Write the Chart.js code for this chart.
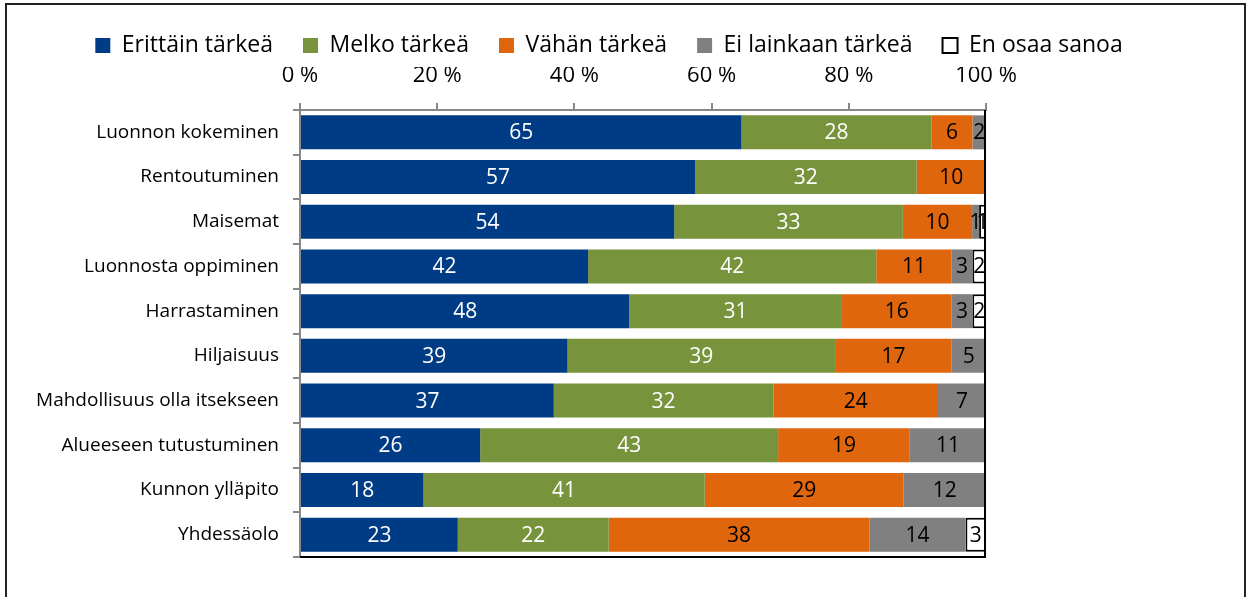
<!DOCTYPE html>
<html>
<head>
<meta charset="utf-8">
<script src="https://cdn.jsdelivr.net/npm/chart.js@4/dist/chart.umd.min.js"></script>
<style>
    html, body { margin: 0; padding: 0; background: #fff; overflow: hidden; }
    #frame { position: absolute; left: 5px; top: 3px; width: 1237px; height: 620px; border: 2px solid #222; }
    #chart { position: absolute; left: 0; top: 0; }
</style>
</head>
<body>
<div id="frame"></div>
<canvas id="chart" width="1247" height="597"></canvas>
<script>
const categories = [
    'Luonnon kokeminen', 'Rentoutuminen', 'Maisemat', 'Luonnosta oppiminen', 'Harrastaminen',
    'Hiljaisuus', 'Mahdollisuus olla itsekseen', 'Alueeseen tutustuminen', 'Kunnon ylläpito', 'Yhdessäolo'
];
const seriesNames = ['Erittäin tärkeä', 'Melko tärkeä', 'Vähän tärkeä', 'Ei lainkaan tärkeä', 'En osaa sanoa'];
const erittain = [65, 57, 54, 42, 48, 39, 37, 26, 18, 23];
const melko    = [28, 32, 33, 42, 31, 39, 32, 43, 41, 22];
const vahan    = [6, 10, 10, 11, 16, 17, 24, 19, 29, 38];
const eiLainkaan = [2, 0, 1, 3, 3, 5, 7, 11, 12, 14];
const enOsaa   = [0, 0, 1, 2, 2, 0, 0, 0, 0, 3];
const xTicks = [0, 20, 40, 60, 80, 100];

const rawSeries = [erittain, melko, vahan, eiLainkaan, enOsaa];
const fills = ['#003B85', '#77933C', '#DF660C', '#808080', '#FFFFFF'];
const labelColors = ['#fff', '#fff', '#000', '#000', '#000'];
const FONT = "'Open Sans'";

// bars are shown as shares of each row total (100 % stacked)
const rowTotals = categories.map((c, j) => rawSeries.reduce((s, arr) => s + arr[j], 0));

const datasets = rawSeries.map((arr, i) => ({
    label: seriesNames[i],
    data: arr.map((v, j) => v / rowTotals[j] * 100),
    backgroundColor: fills[i],
    borderColor: i === 4 ? '#000' : fills[i],
    borderWidth: i === 4 ? 2 : 0,
    borderSkipped: false,
    categoryPercentage: 0.76,
    barPercentage: 1
}));

// value labels in the middle of every segment
const segmentLabels = {
    id: 'segmentLabels',
    afterDatasetsDraw(chart) {
        const ctx = chart.ctx;
        ctx.save();
        ctx.font = '21px ' + FONT;
        ctx.textAlign = 'center';
        ctx.textBaseline = 'middle';
        chart.data.datasets.forEach((ds, i) => {
            chart.getDatasetMeta(i).data.forEach((bar, j) => {
                const v = rawSeries[i][j];
                if (!v) return;
                ctx.fillStyle = labelColors[i];
                ctx.fillText(String(v), (bar.x + bar.base) / 2, bar.y + 1);
            });
        });
        // right and bottom edges of the plot area
        const a = chart.chartArea;
        ctx.strokeStyle = '#000';
        ctx.lineWidth = 2;
        ctx.beginPath();
        ctx.moveTo(a.right - 1, a.top);
        ctx.lineTo(a.right - 1, a.bottom);
        ctx.moveTo(a.left, a.bottom);
        ctx.lineTo(a.right, a.bottom);
        ctx.stroke();
        ctx.restore();
    }
};

new Chart(document.getElementById('chart'), {
    type: 'bar',
    data: { labels: categories, datasets: datasets },
    options: {
        indexAxis: 'y',
        responsive: false,
        animation: false,
        layout: { padding: { left: 10, right: 39, top: 4, bottom: 40 } },
        scales: {
            x: {
                position: 'top',
                stacked: true,
                min: 0,
                max: 100,
                afterBuildTicks(scale) {
                    scale.ticks = xTicks.map(v => ({ value: v }));
                },
                afterFit(scale) { scale.height = 43; },
                ticks: {
                    color: '#000',
                    font: { family: FONT, size: 22 },
                    padding: 14,
                    maxRotation: 0,
                    callback: v => v + ' %'
                },
                grid: { drawOnChartArea: false, tickLength: 7, color: '#888', lineWidth: 2 },
                border: { color: '#888', width: 2 }
            },
            y: {
                stacked: true,
                afterFit(scale) { scale.width = 290; },
                ticks: {
                    color: '#000',
                    font: { family: FONT, size: 19 },
                    padding: 14
                },
                grid: { offset: true, drawOnChartArea: false, tickLength: 7, color: '#888', lineWidth: 2 },
                border: { color: '#888', width: 2 }
            },
            yr: {
                type: 'linear',
                position: 'right',
                display: true,
                afterFit(scale) { scale.width = 222; },
                ticks: { display: false },
                grid: { display: false },
                border: { display: false }
            }
        },
        plugins: {
            legend: {
                position: 'top',
                labels: {
                    color: '#000',
                    font: { family: FONT, size: 23 },
                    boxWidth: 15,
                    boxHeight: 15,
                    padding: 30
                }
            },
            tooltip: { enabled: false }
        }
    },
    plugins: [segmentLabels]
});
</script>
</body>
</html>
